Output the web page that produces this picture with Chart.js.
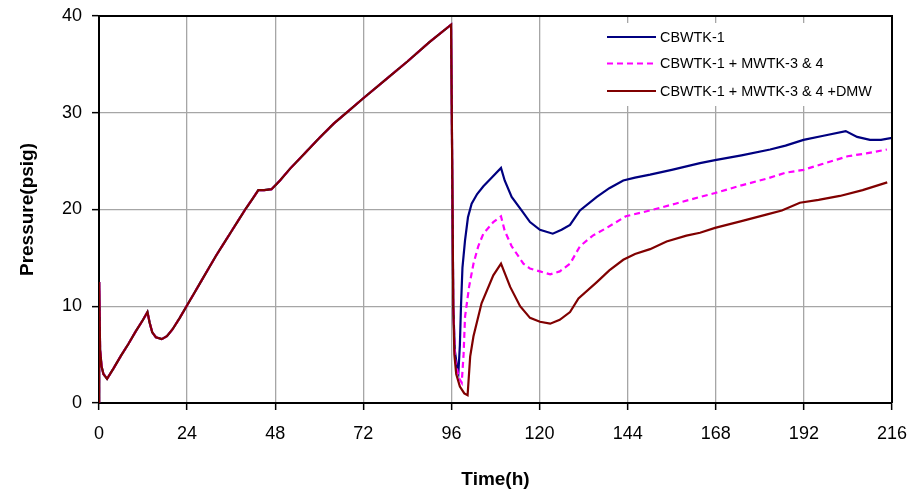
<!DOCTYPE html>
<html>
<head>
<meta charset="utf-8">
<script src="https://cdn.jsdelivr.net/npm/chart.js@4.4.1/dist/chart.umd.min.js"></script>
<style>
  html, body { margin: 0; padding: 0; background: #fff; }
  canvas { display: block; }
</style>
</head>
<body>
<canvas id="c" width="922" height="491"></canvas>
<script>
// ---- Data ----
const seriesNames = ["CBWTK-1", "CBWTK-1 + MWTK-3 & 4", "CBWTK-1 + MWTK-3 & 4 +DMW"];

// Shared part of all three curves (0 h to ~96 h)
const commonTime = [0, 0.05, 0.3, 0.7, 1.2, 2.2, 4, 6, 8, 10, 12, 13.2, 13.8, 14.5, 15.5, 17.1, 18.5, 20, 22, 24,
  26, 28, 30, 32, 34, 36, 38, 40, 42, 43.4, 45, 47, 49.3, 52, 56, 60, 64, 68, 72, 78, 84, 90, 95.9];
const commonPressure = [0, 12.5, 5.5, 3.8, 3.0, 2.5, 3.6, 4.9, 6.1, 7.4, 8.6, 9.4, 8.3, 7.3, 6.8, 6.6, 6.9, 7.6, 8.8, 10.1,
  11.4, 12.7, 14.0, 15.3, 16.5, 17.7, 18.9, 20.1, 21.2, 22.0, 22.0, 22.1, 23.0, 24.2, 25.8, 27.4, 28.9, 30.2, 31.5, 33.4, 35.3, 37.3, 39.1];

// CBWTK-1 after 96 h
const blueTime = [96.2, 96.5, 96.9, 97.5, 97.9, 98.3, 98.6, 99.0, 99.7, 100.5, 101.5, 103, 104.7, 107, 109.5, 110.5, 112.4, 115.1,
  117.4, 120.1, 123.6, 126, 128.3, 131, 135.6, 139, 142.8, 146, 150.1, 156, 163.7, 167.8, 175, 182.8, 187, 191.9, 197, 203.4,
  206.5, 210, 213, 216];
const bluePressure = [25, 10, 5.5, 3.8, 3.2, 6, 10, 14, 16.8, 19.2, 20.6, 21.6, 22.4, 23.3, 24.3, 23.0, 21.3, 19.9,
  18.7, 17.9, 17.5, 17.9, 18.4, 19.9, 21.3, 22.2, 23.0, 23.3, 23.6, 24.1, 24.8, 25.1, 25.6, 26.2, 26.6, 27.2, 27.6, 28.1,
  27.5, 27.2, 27.2, 27.4];

// CBWTK-1 + MWTK-3 & 4 after 96 h
const magentaTime = [96.2, 96.5, 97, 98, 98.8, 99.3, 99.7, 100.8, 102, 103.3, 104.7, 107.4, 109.5, 110.5, 112.4, 115.6, 117.4,
  120.1, 122.9, 125.5, 128.3, 131, 134.5, 138.3, 143.5, 150.1, 157, 163.7, 167.8, 175, 182, 187, 191.9, 197, 203.9, 209, 214.6];
const magentaPressure = [25, 10, 4.5, 2.6, 2.1, 5, 8.9, 12, 14.4, 16.2, 17.5, 18.7, 19.3, 17.8, 16.2, 14.4, 13.9,
  13.6, 13.3, 13.6, 14.4, 16.2, 17.3, 18.1, 19.3, 19.9, 20.6, 21.3, 21.7, 22.5, 23.2, 23.8, 24.1, 24.7, 25.5, 25.8, 26.2];

// CBWTK-1 + MWTK-3 & 4 +DMW after 96 h
const redTime = [96.2, 96.5, 96.8, 97.3, 98.3, 99.5, 100.4, 101.1, 102, 104.2, 107.4, 109.5, 112, 114.7, 117.4, 120.1, 122.9,
  125.5, 128.3, 130.6, 135.6, 139, 142.8, 146, 150.1, 154.6, 160, 163.7, 167.8, 175, 182, 186, 190.9, 196, 201.8, 208, 214.7];
const redPressure = [25, 10, 5, 3, 1.7, 1.0, 0.8, 4.8, 6.9, 10.3, 13.2, 14.4, 12.0, 10.0, 8.8, 8.4, 8.2,
  8.6, 9.4, 10.8, 12.5, 13.7, 14.8, 15.4, 15.9, 16.7, 17.3, 17.6, 18.1, 18.8, 19.5, 19.9, 20.7, 21.0, 21.4, 22.0, 22.8];

// Axis ticks
const xTicks = [0, 24, 48, 72, 96, 120, 144, 168, 192, 216];
const yTicks = [0, 10, 20, 30, 40];

// ---- Build points ----
function points(tA, pA) {
  const pts = commonTime.map((t, i) => ({ x: t, y: commonPressure[i] }));
  tA.forEach((t, i) => pts.push({ x: t, y: pA[i] }));
  return pts;
}

const FONT = "'Liberation Sans', Arial, sans-serif";
const colors = ["#000080", "#ff00ff", "#800000"];
const dashes = [[], [6, 4], []];

const legendPlugin = {
  id: 'boxLegend',
  afterDatasetsDraw(chart) {
    const ctx = chart.ctx;
    const a = chart.chartArea;
    ctx.save();
    ctx.fillStyle = '#ffffff';
    ctx.fillRect(597, 23, a.right - 597, 83);
    const rows = [37, 63.5, 91];
    ctx.font = "14.4px " + FONT;
    ctx.textBaseline = 'middle';
    ctx.textAlign = 'left';
    for (let i = 0; i < 3; i++) {
      ctx.beginPath();
      ctx.setLineDash(dashes[i]);
      ctx.strokeStyle = colors[i];
      ctx.lineWidth = 2.2;
      ctx.moveTo(607, rows[i]);
      ctx.lineTo(656, rows[i]);
      ctx.stroke();
      ctx.setLineDash([]);
      ctx.fillStyle = '#000';
      ctx.fillText(seriesNames[i], 660, rows[i] + 1);
    }
    // top and right frame
    ctx.strokeStyle = '#000';
    ctx.lineWidth = 2;
    ctx.beginPath();
    ctx.moveTo(a.left, a.top);
    ctx.lineTo(a.right, a.top);
    ctx.lineTo(a.right, a.bottom);
    ctx.stroke();
    ctx.restore();
  }
};

new Chart(document.getElementById('c'), {
  type: 'scatter',
  data: {
    datasets: [0, 1, 2].map(i => ({
      label: seriesNames[i],
      data: i === 0 ? points(blueTime, bluePressure) : i === 1 ? points(magentaTime, magentaPressure) : points(redTime, redPressure),
      showLine: true,
      borderColor: colors[i],
      backgroundColor: colors[i],
      borderWidth: 2.2,
      borderDash: dashes[i],
      pointRadius: 0,
      pointHoverRadius: 0,
      tension: 0,
      fill: false,
      order: 2 - i
    }))
  },
  options: {
    responsive: false,
    animation: false,
    devicePixelRatio: 1,
    layout: { padding: { left: 0, right: 30, top: 16, bottom: 0 } },
    plugins: { legend: { display: false }, tooltip: { enabled: false } },
    scales: {
      x: {
        type: 'linear',
        min: 0, max: 216,
        afterBuildTicks(scale) { scale.ticks = xTicks.map(v => ({ value: v })); },
        afterFit(scale) { scale.height = 88; },
        ticks: { color: '#000', font: { family: FONT, size: 18 }, padding: 13, maxRotation: 0 },
        grid: { color: '#a6a6a6', lineWidth: 1.3, tickColor: '#000', tickLength: 7, tickWidth: 1.5 },
        border: { color: '#000', width: 2 },
        title: { display: true, text: 'Time(h)', color: '#000', font: { family: FONT, size: 19, weight: 'bold' }, padding: { top: 0, bottom: 0 } }
      },
      y: {
        type: 'linear',
        min: 0, max: 40,
        afterBuildTicks(scale) { scale.ticks = yTicks.map(v => ({ value: v })); },
        afterFit(scale) { scale.width = 99; scale.paddingTop = 0; scale.paddingBottom = 0; },
        ticks: { color: '#000', font: { family: FONT, size: 18 }, padding: 10 },
        grid: { color: '#a6a6a6', lineWidth: 1.3, tickColor: '#000', tickLength: 7, tickWidth: 1.5 },
        border: { color: '#000', width: 2 },
        title: { display: true, text: 'Pressure(psig)', color: '#000', font: { family: FONT, size: 19, weight: 'bold' }, padding: { top: 16, bottom: 0 } }
      }
    }
  },
  plugins: [legendPlugin]
});
</script>
</body>
</html>
